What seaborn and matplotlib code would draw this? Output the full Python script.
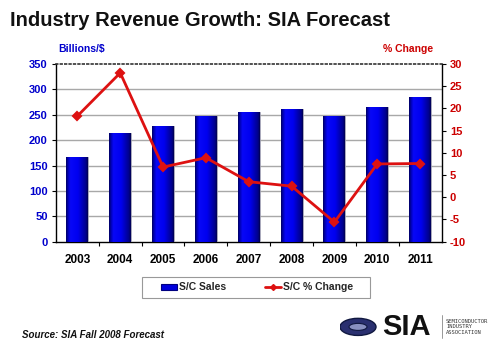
import matplotlib
matplotlib.use("Agg")
import matplotlib.pyplot as plt
import numpy as np
import pandas as pd
import seaborn as sns
from matplotlib.colors import LinearSegmentedColormap
from matplotlib.patches import Patch, Ellipse, Rectangle
from matplotlib.lines import Line2D

years = ["2003", "2004", "2005", "2006", "2007", "2008", "2009", "2010", "2011"]
sales = [167, 214, 228, 248, 256, 261, 248, 266, 285]
pct_change = [18.3, 28.0, 6.8, 8.9, 3.5, 2.5, -5.6, 7.5, 7.6]

sales_ticks = [0, 50, 100, 150, 200, 250, 300, 350]
pct_ticks = [-10, -5, 0, 5, 10, 15, 20, 25, 30]

sns.set_theme(style="white")
plt.rcParams["font.family"] = ["Liberation Sans", "DejaVu Sans"]

BLUE_TXT = "#0000CC"
RED_TXT = "#CC0000"
LINE_RED = "#DD1111"

df = pd.DataFrame({"year": years, "sales": sales, "pct": pct_change})

fig = plt.figure(figsize=(5.0, 3.48), dpi=100)
ax = fig.add_axes([0.112, 0.3055, 0.771, 0.5106])

sns.barplot(data=df, x="year", y="sales", color="#0000EE", width=0.51,
            saturation=1, ax=ax, zorder=3)

# shaded cylinder-like fill on every bar
bar_cmap = LinearSegmentedColormap.from_list(
    "bar", [(0.0, "#000060"), (0.08, "#0000B0"), (0.2, "#0808F8"),
            (0.55, "#0000F0"), (0.75, "#0000B8"), (0.92, "#00008A"),
            (1.0, "#000050")])
grad = np.linspace(0, 1, 64).reshape(1, -1)
for p in ax.patches:
    x0, y0 = p.get_x(), p.get_y()
    w, h = p.get_width(), p.get_height()
    p.set_facecolor("none")
    p.set_edgecolor("#9a9ab0")
    p.set_linewidth(0.6)
    im = ax.imshow(grad, cmap=bar_cmap, aspect="auto",
                   extent=(x0, x0 + w, y0, y0 + h), zorder=3,
                   interpolation="bilinear")
    im.set_clip_path(p)

ax.set_xlim(-0.5, 8.5)
ax.set_ylim(0, 350)
ax.set_yticks(sales_ticks)
ax.set_yticklabels([str(v) for v in sales_ticks], color=BLUE_TXT,
                   fontsize=8, fontweight="bold")
ax.set_xticks(range(len(years)))
ax.set_xticklabels(years, fontsize=8.5, fontweight="bold", color="black")
ax.set_xticks(np.arange(0.5, 8.5, 1.0), minor=True)
ax.tick_params(axis="x", which="major", length=0, pad=9)
ax.tick_params(axis="x", which="minor", length=3, direction="out",
               color="black", width=0.8, bottom=True)
ax.tick_params(axis="y", length=3, direction="out", color="black",
               width=0.8, left=True, pad=3)
ax.set_xlabel("")
ax.set_ylabel("")
ax.grid(False)
for v in sales_ticks[1:-1]:
    ax.axhline(v, color="#a8a8a8", lw=1.0, zorder=1)

for side in ["left", "right", "bottom"]:
    ax.spines[side].set_color("black")
    ax.spines[side].set_linewidth(1.0)
ax.spines["top"].set_color("#333333")
ax.spines["top"].set_linestyle(":")
ax.spines["top"].set_linewidth(1.2)

ax2 = ax.twinx()
sns.pointplot(data=df, x="year", y="pct", color=LINE_RED, markers="D",
              markersize=4, linewidth=2, ax=ax2, errorbar=None)
ax2.set_xlim(-0.5, 8.5)
ax2.set_ylim(-10, 30)
ax2.set_yticks(pct_ticks)
ax2.set_yticklabels([str(v) for v in pct_ticks], color=RED_TXT,
                    fontsize=8, fontweight="bold")
ax2.tick_params(axis="y", length=3, direction="out", color="black",
                width=0.8, right=True, pad=3)
ax2.set_ylabel("")
ax2.set_xlabel("")
ax2.grid(False)
for s in ax2.spines.values():
    s.set_visible(False)

fig.text(0.116, 0.846, "Billions/$", color=BLUE_TXT, fontsize=7.5,
         fontweight="bold", ha="left", va="bottom")
fig.text(0.866, 0.846, "% Change", color=RED_TXT, fontsize=7.5,
         fontweight="bold", ha="right", va="bottom")

fig.text(0.02, 0.925, "Industry Revenue Growth: SIA Forecast",
         fontsize=14.5, fontweight="bold", color="#111111", ha="left",
         va="baseline")

# legend entries without their own frame, inside a wide box
handles = [Patch(facecolor="#0000DD", edgecolor="#000080", lw=0.8),
           Line2D([0], [0], color=LINE_RED, lw=2, marker="D", markersize=3)]
leg = fig.legend(handles, ["S/C Sales", "S/C % Change"], ncol=2,
                 loc="center", bbox_to_anchor=(0.514, 0.174),
                 frameon=False, fontsize=7.5,
                 handlelength=1.5, handleheight=0.5, columnspacing=3.8,
                 borderpad=0.3, handletextpad=0.2, borderaxespad=0)
for t in leg.get_texts():
    t.set_fontweight("bold")
fig.patches.append(Rectangle((142 / 500, 1 - 298 / 348), 228 / 500, 21 / 348,
                             transform=fig.transFigure, facecolor="white",
                             edgecolor="#999999", lw=0.8, zorder=0))

fig.text(0.045, 0.028, "Source: SIA Fall 2008 Forecast", fontsize=7,
         fontweight="bold", fontstyle="italic", color="#111111",
         ha="left", va="baseline")

# association mark in the lower right corner
logo = fig.add_axes([0.68, 0.0, 0.32, 0.13])
logo.set_xlim(0, 160)
logo.set_ylim(0, 45)
logo.axis("off")
logo.add_patch(Ellipse((18, 21), 36, 17, facecolor="#2a3070",
                       edgecolor="#101840", lw=1))
logo.add_patch(Ellipse((18, 21), 18, 7, facecolor="#8890c0",
                       edgecolor="#101840", lw=0.8))
logo.text(42, 21, "SIA", fontsize=21, fontweight="bold", color="#111111",
          ha="left", va="center")
logo.plot([102, 102], [10, 33], color="#888888", lw=0.6)
logo.text(106, 21, "SEMICONDUCTOR\nINDUSTRY\nASSOCIATION", fontsize=4,
          color="#333333", ha="left", va="center", linespacing=1.2,
          family="DejaVu Sans Mono")

fig.savefig("out.png", dpi=100)
